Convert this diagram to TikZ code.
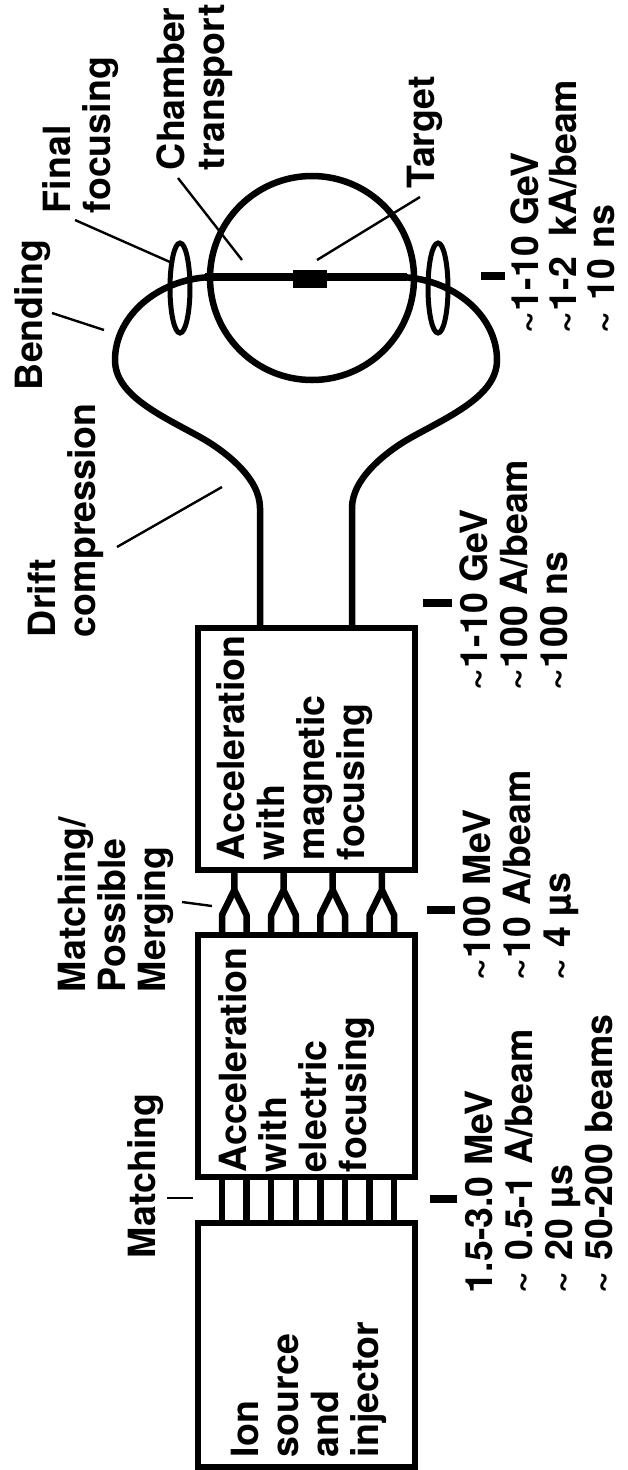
\documentclass[tikz,border=0pt]{standalone}
\usepackage{fontspec}
\setmainfont{TeX Gyre Heros}
\begin{document}
\begin{tikzpicture}[x=1pt,y=-1pt,
  lbl/.style={rotate=90, anchor=north west, inner sep=0pt, outer sep=0pt, align=left,
              font=\fontsize{37.5}{40}\selectfont\bfseries},
  boxst/.style={draw, line width=5.5pt, inner sep=0pt, outer sep=0pt, minimum width=217pt},
  pipe/.style={line width=6.5pt, line join=round},
  lead/.style={line width=2.4pt},
  tickst/.style={line width=8pt},
  lens/.style={line width=5pt},
]
\useasboundingbox[fill=white] (0,0) rectangle (627,1470);

% ---- boxes
\node[boxst, minimum height=244pt] (ion)  at (306.5,1345) {};
\node[boxst, minimum height=242pt] (elec) at (306.5,1056) {};
\node[boxst, minimum height=242pt] (mag)  at (306.5,749)  {};

% ---- matching lines between injector and electric section
\foreach \i in {0,...,7} {
  \coordinate (m\i) at ({222+24.6*\i},1200);
  \draw[pipe] (elec.south -| m\i) -- (ion.north -| m\i);
}

% ---- matching / merging (four Y junctions)
\foreach \k in {0,...,3} {
  \pgfmathsetmacro\a{222+49.2*\k}
  \pgfmathsetmacro\b{\a+24.6}
  \pgfmathsetmacro\s{(\a+\b)/2}
  \coordinate (s\k) at (\s,890);
  \draw[pipe] (mag.south -| s\k) -- (s\k) -- (\a,915) -- (elec.north -| {(\a,0)});
  \draw[pipe] (s\k) -- (\b,915) -- (elec.north -| {(\b,0)});
}

% ---- chamber
\node[draw, circle, line width=6.5pt, minimum size=204pt, inner sep=0pt] (chamber) at (312,278) {};

% ---- beam lines: drift compression, bending, final transport
\coordinate (pl) at (260,508);
\coordinate (pr) at (352,508);
\draw[pipe] (mag.north -| pl) -- (pl)
  .. controls (260,478) and (225,451) .. (200,437)
  .. controls (160,415) and (115,395) .. (115,360)
  .. controls (115,315) and (160,277) .. (215,277)
  -- (397,277)
  .. controls (452,277) and (497,315) .. (497,360)
  .. controls (497,395) and (452,415) .. (412,437)
  .. controls (387,451) and (352,478) .. (pr)
  -- (mag.north -| pr);
\draw[line width=8.5pt] (205,277) -- (407,277);

% ---- final focusing lenses
\coordinate (lensL) at (180,288);
\coordinate (lensR) at (438,288);
\draw[lens] (lensL) ellipse [x radius=10, y radius=45];
\draw[lens] (lensR) ellipse [x radius=10, y radius=45];

% ---- target
\node[fill=black, minimum width=34pt, minimum height=18pt, inner sep=0pt] (tgt) at (310,278.5) {};

% ---- text in boxes
\node[lbl] (iontxt)  at (231,1457) {Ion\\source\\and\\injector};
\node[lbl] (electxt) at (219,1172) {Acceleration\\with\\electric\\focusing};
\node[lbl] (magtxt)  at (217,860)  {Acceleration\\with\\magnetic\\focusing};

% ---- labels on the left
\node[lbl] (lmatch)  at (128,1258) {Matching};
\node[lbl] (lmerge)  at (58,992)   {Matching/\\Possible\\Merging};
\node[lbl] (ldrift)  at (28,637)   {Drift\\compression};
\node[lbl] (lbend)   at (15,390)   {Bending};
\node[lbl] (lfinal)  at (43,213)   {Final\\focusing};
\node[lbl] (lchamb)  at (157,170)  {Chamber\\transport};
\node[lbl] (ltarget) at (407,188)  {Target};

% ---- leader lines
\coordinate (a1) at (167,1198); \coordinate (b1) at (193,1198);
\coordinate (a2) at (182,902);  \coordinate (b2) at (212,906);
\coordinate (a3) at (117,547);  \coordinate (b3) at (222,487);
\coordinate (a4) at (52,313);   \coordinate (b4) at (104,330);
\coordinate (a5) at (75,220);   \coordinate (b5) at (170,262);
\coordinate (a6) at (178,178);  \coordinate (b6) at (242,260);
\coordinate (a7) at (420,197);  \coordinate (b7) at (317,260);
\foreach \j in {1,...,7} { \draw[lead] (a\j) -- (b\j); }

% ---- parameter ticks
\draw[tickst] (430,1199) -- (457,1199);
\draw[tickst] (427,910) -- (455,910);
\draw[tickst] (423,603) -- (452,603);
\draw[tickst] (481,276) -- (505,276);

% ---- parameter groups
\node[lbl] (g1) at (465,1293) {1.5-3.0 MeV\\\textasciitilde\ 0.5-1 A/beam\\\textasciitilde\ 20 µs\\\textasciitilde\ 50-200 beams};
\node[lbl] (g2) at (463,980) {\textasciitilde100 MeV\\\textasciitilde10 A/beam\\\textasciitilde\ 4 µs};
\node[lbl] (g3) at (460,690) {\textasciitilde1-10 GeV\\\textasciitilde100 A/beam\\\textasciitilde100 ns};
\node[lbl, font=\fontsize{37.5}{38}\selectfont\bfseries] (g4) at (511,333) {\textasciitilde1-10 GeV\\\textasciitilde1-2\ \ kA/beam\\\textasciitilde\ 10 ns};
\end{tikzpicture}
\end{document}
